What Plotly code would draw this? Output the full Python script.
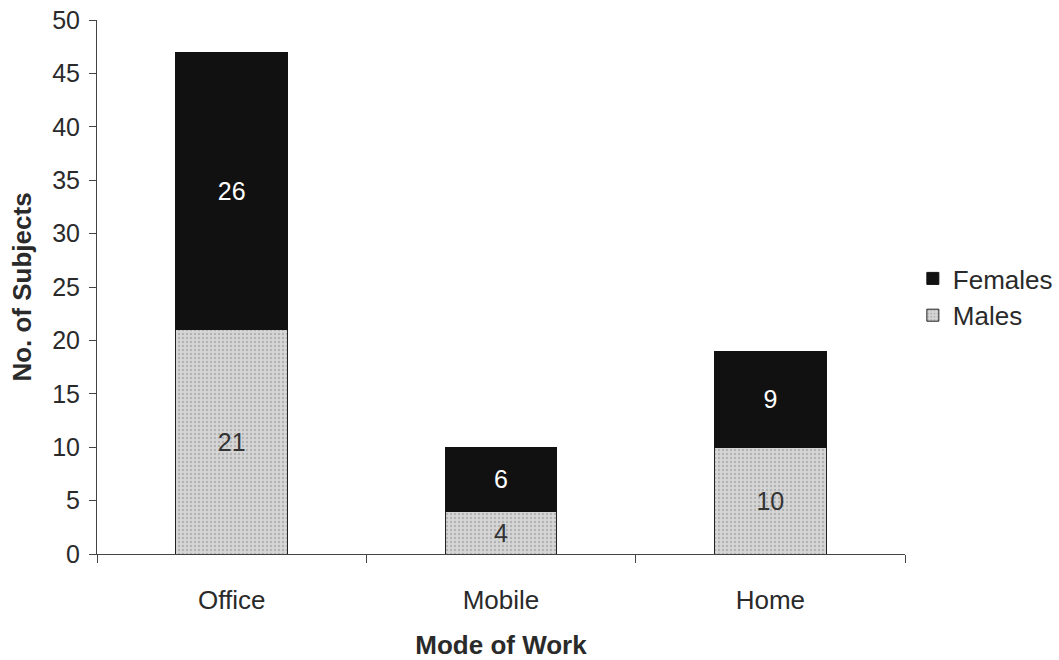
import plotly.graph_objects as go

categories = ["Office", "Mobile", "Home"]
males = [21, 4, 10]
females = [26, 6, 9]

font_family = "Liberation Sans, Arial, sans-serif"
txt = "#2a2a2a"

fig = go.Figure()
fig.add_trace(go.Bar(
    name="Males", x=categories, y=males, legendrank=2,
    text=[str(v) for v in males], textposition="inside", insidetextanchor="middle",
    textfont=dict(color="#333333", size=25, family=font_family),
    marker=dict(color="#d0d0d0", line=dict(color="#222222", width=1),
                pattern=dict(shape=".", fgcolor="#8f8f8f", bgcolor="#d6d6d6", size=4, solidity=0.3)),
))
fig.add_trace(go.Bar(
    name="Females", x=categories, y=females, legendrank=1,
    text=[str(v) for v in females], textposition="inside", insidetextanchor="middle",
    textfont=dict(color="white", size=25, family=font_family),
    marker=dict(color="#111111", line=dict(color="#111111", width=1)),
))

fig.update_layout(
    barmode="stack",
    bargap=0.585,
    width=1059, height=660,
    margin=dict(l=97, r=154, t=20, b=106, autoexpand=False),
    paper_bgcolor="white", plot_bgcolor="white",
    font=dict(family=font_family, size=26, color=txt),
    showlegend=True,
    legend=dict(xref="container", yref="container", x=0.862, y=0.55,
                xanchor="left", yanchor="middle", traceorder="normal",
                font=dict(size=26, color=txt), bgcolor="rgba(0,0,0,0)",
                itemwidth=30, tracegroupgap=0),
    uniformtext=dict(mode=False),
)
fig.update_xaxes(
    showline=True, linecolor="#444444", linewidth=1,
    ticks="outside", tickson="boundaries", ticklen=8, tickcolor="#444444",
    showgrid=False, ticklabelstandoff=23, automargin=False,
    title=dict(text="<b>Mode of Work</b>", font=dict(size=26, color=txt), standoff=24),
    tickfont=dict(size=26, color=txt),
)
fig.update_yaxes(
    range=[0, 50], dtick=5,
    showline=True, linecolor="#444444", linewidth=1,
    ticks="outside", ticklen=7, tickcolor="#444444",
    showgrid=False, zeroline=False, ticklabelstandoff=4, automargin=False,
    title=dict(text="<b>No. of Subjects</b>", font=dict(size=26, color=txt), standoff=13),
    tickfont=dict(size=25, color=txt),
)

fig.write_html("out.html")
